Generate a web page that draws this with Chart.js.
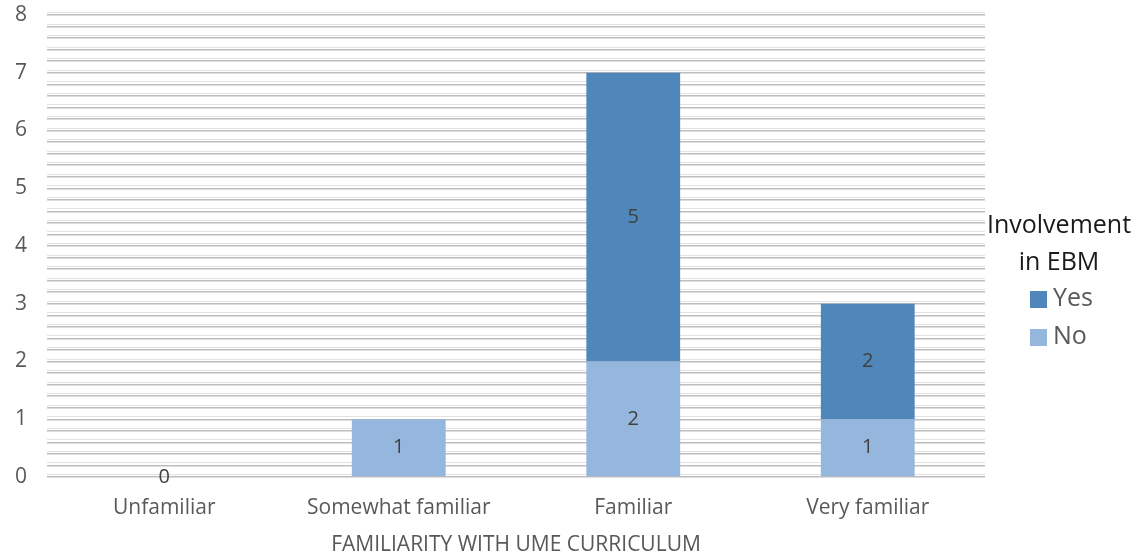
<!DOCTYPE html>
<html>
<head>
<meta charset="utf-8">
<script src="https://cdn.jsdelivr.net/npm/chart.js@4"></script>
<style>
  html, body { margin: 0; padding: 0; background: #fff; }
  #wrap { width: 1137px; height: 558px; position: relative; }
</style>
</head>
<body>
<div id="wrap"><canvas id="c"></canvas></div>
<script>
const categories = ['Unfamiliar', 'Somewhat familiar', 'Familiar', 'Very familiar'];
const yesValues = [0, 0, 5, 2];
const noValues = [0, 1, 2, 1];
const legendTitle = ['Involvement', 'in EBM'];
const xTitle = 'FAMILIARITY WITH UME CURRICULUM';

const FONT = '"Open Sans", sans-serif';

// doubled grid lines (light line just above each gray one)
const gridShadow = {
  id: 'gridShadow',
  beforeDatasetsDraw(chart) {
    const { ctx, chartArea, scales } = chart;
    ctx.save();
    ctx.strokeStyle = '#e2e2e2';
    ctx.lineWidth = 1;
    scales.y.ticks.forEach(t => {
      const y = Math.round(scales.y.getPixelForValue(t.value)) - 2.5;
      ctx.beginPath();
      ctx.moveTo(chartArea.left, y);
      ctx.lineTo(chartArea.right, y);
      ctx.stroke();
    });
    ctx.restore();
  }
};

const barLabels = {
  id: 'barLabels',
  afterDatasetsDraw(chart) {
    const { ctx } = chart;
    ctx.save();
    ctx.font = '20px ' + FONT;
    ctx.fillStyle = '#404040';
    ctx.textAlign = 'center';
    ctx.textBaseline = 'middle';
    chart.data.datasets.forEach((ds, di) => {
      const meta = chart.getDatasetMeta(di);
      meta.data.forEach((bar, i) => {
        const v = ds.data[i];
        const total = yesValues[i] + noValues[i];
        if (v === 0 && !(total === 0 && di === 0)) return;
        const y = v === 0 ? bar.y : (bar.y + bar.base) / 2;
        ctx.fillText(String(v), bar.x, y);
      });
    });
    ctx.restore();
  }
};

const sideLegend = {
  id: 'sideLegend',
  afterDraw(chart) {
    const { ctx } = chart;
    const cx = 1059;
    ctx.save();
    ctx.font = '25px ' + FONT;
    ctx.textAlign = 'center';
    ctx.textBaseline = 'middle';
    ctx.fillStyle = '#1a1a1a';
    legendTitle.forEach((line, i) => ctx.fillText(line, cx, 226 + i * 37));
    const items = [chart.data.datasets[1], chart.data.datasets[0]];
    ctx.textAlign = 'left';
    items.forEach((ds, i) => {
      const y = 299 + i * 38;
      ctx.fillStyle = ds.backgroundColor;
      ctx.fillRect(1030, y - 8, 17, 17);
      ctx.fillStyle = '#595959';
      ctx.fillText(ds.label, 1053, y);
    });
    ctx.restore();
  }
};

new Chart(document.getElementById('c'), {
  type: 'bar',
  data: {
    labels: categories,
    datasets: [
      { label: 'No', data: noValues, backgroundColor: '#95b7de', barPercentage: 0.4, categoryPercentage: 1 },
      { label: 'Yes', data: yesValues, backgroundColor: '#4f87ba', barPercentage: 0.4, categoryPercentage: 1 }
    ]
  },
  options: {
    responsive: true,
    maintainAspectRatio: false,
    animation: false,
    layout: { padding: { top: 15, right: 152, bottom: 0, left: 0 } },
    plugins: {
      legend: { display: false },
      tooltip: { enabled: false }
    },
    scales: {
      x: {
        stacked: true,
        grid: { display: false, drawTicks: false },
        border: { display: false },
        ticks: { color: '#595959', font: { family: FONT, size: 21 }, padding: 18 },
        title: { display: true, text: xTitle, color: '#595959', font: { family: FONT, size: 21 }, padding: { top: 0, bottom: 0 } },
        afterFit: s => { s.height = 81; }
      },
      y: {
        stacked: true,
        min: 0,
        max: 8,
        border: { display: false },
        grid: { color: '#bdbdbd', lineWidth: 1.5, drawTicks: false },
        ticks: {
          stepSize: 0.2,
          autoSkip: false,
          padding: 20,
          color: '#595959',
          font: { family: FONT, size: 21 },
          callback: v => Math.abs(v - Math.round(v)) < 1e-6 ? String(Math.round(v)) : ''
        },
        afterFit: s => { s.width = 47; s.paddingTop = 0; s.paddingBottom = 0; }
      }
    }
  },
  plugins: [gridShadow, barLabels, sideLegend]
});
</script>
</body>
</html>
